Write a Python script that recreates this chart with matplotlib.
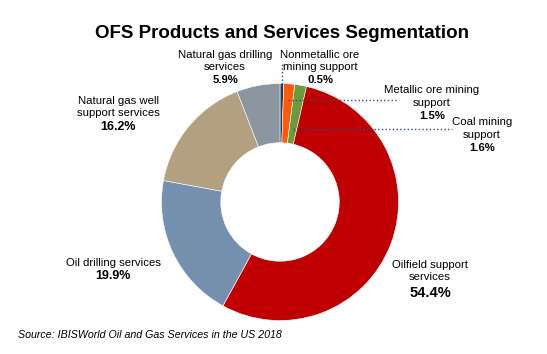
import numpy as np
import matplotlib.pyplot as plt

plt.rcParams['font.family'] = ['Liberation Sans', 'DejaVu Sans']

# data, clockwise from 12 o'clock
labels = ['Nonmetallic ore\nmining support', 'Metallic ore mining\nsupport', 'Coal mining\nsupport',
          'Oilfield support\nservices', 'Oil drilling services', 'Natural gas well\nsupport services',
          'Natural gas drilling\nservices']
shares = [0.5, 1.5, 1.6, 54.4, 19.9, 16.2, 5.9]
colors = ['#1f3a5c', '#ff5a0a', '#6b9a3c', '#c00000', '#7590ae', '#b2a080', '#8b96a1']

W, H = 547, 354
fig = plt.figure(figsize=(W / 100, H / 100), dpi=100)
ax = fig.add_axes([0, 0, 1, 1])

def py(y):
    return H - y

cx, cy, R = 280, py(202), 118.5
ax.pie(shares, colors=colors, startangle=90, counterclock=False, center=(cx, cy), radius=R,
       wedgeprops=dict(width=R * 0.5, linewidth=0.4, edgecolor='white'), frame=True)
ax.set_xlim(0, W)
ax.set_ylim(0, H)
ax.axis('off')

fig.text(282 / W, 1 - 33 / H, 'OFS Products and Services Segmentation', ha='center', va='center',
         fontsize=13.5, fontweight='bold')

# (x, y of first line, y of pct, pct size) in pixel coords
pos = [(320, 55, 80, 8.2), (432, 90, 116, 8.2), (482, 122, 148, 8.2), (430, 265, 293, 10.5),
       (113, 263, 276, 9), (118, 101, 127, 9), (225, 55, 80, 8.2)]
for lab, s, (x, y, yp, fs) in zip(labels, shares, pos):
    for k, line in enumerate(lab.split('\n')):
        ax.text(x, py(y + k * 12.5), line, ha='center', va='center', fontsize=8.2)
    ax.text(x, py(yp), f'{s}%', ha='center', va='center', fontsize=fs, fontweight='bold')

# leader lines
cum = np.cumsum([0] + shares)
def pt(i, r):
    a = np.deg2rad(90 - (cum[i] + shares[i] / 2) * 3.6)
    return cx + r * np.cos(a), cy + r * np.sin(a)

lc = '#2f4f7f'
x0, y0 = pt(0, R)
ax.plot([x0, x0], [y0, py(62)], ls=':', color=lc, lw=1)
x1, y1 = pt(1, 102)
ax.plot([x1, 397], [y1, y1], ls=':', color=lc, lw=1)
x2, y2 = pt(2, 74)
ax.plot([x2, 452], [y2, y2], ls=':', color=lc, lw=1)

fig.text(18 / W, 1 - 335 / H, 'Source: IBISWorld Oil and Gas Services in the US 2018', ha='left', va='center',
         fontsize=7.7, style='italic')

fig.savefig('out.png', dpi=100)
